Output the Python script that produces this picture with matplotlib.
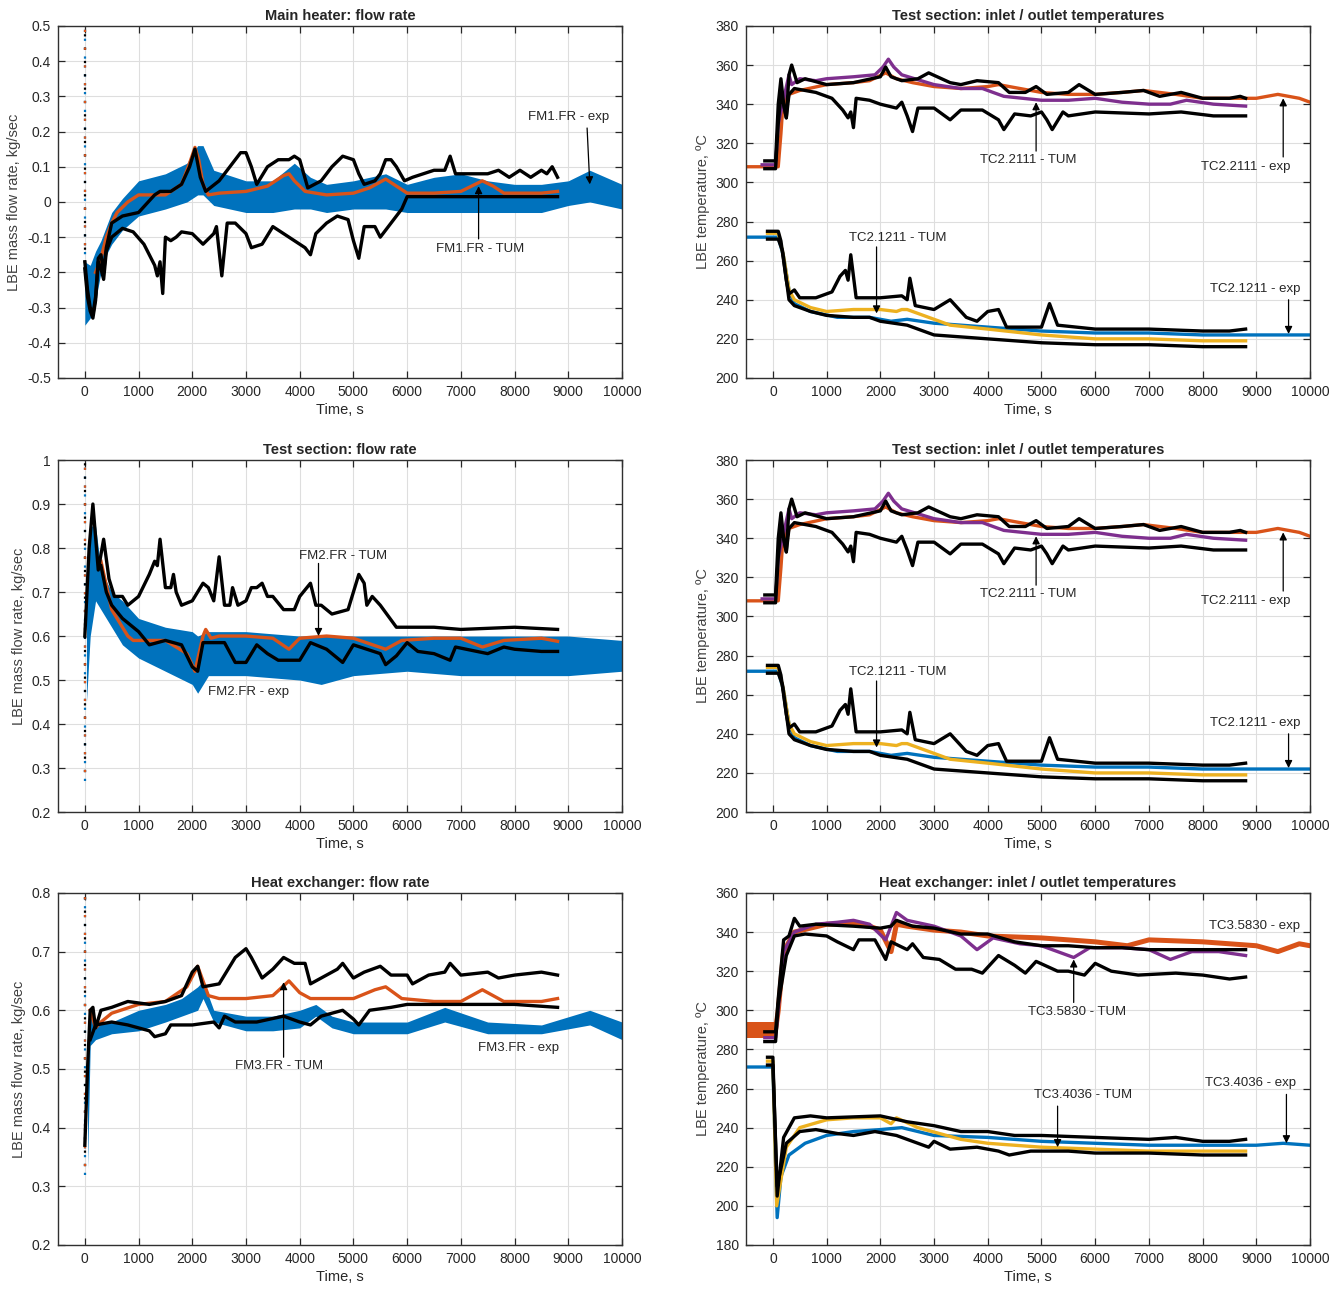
import matplotlib
matplotlib.use("Agg")
import matplotlib.pyplot as plt
from matplotlib.ticker import FuncFormatter

plt.rcParams['font.family'] = ['Liberation Sans', 'DejaVu Sans']

BLUE = '#0072BD'
ORANGE = '#D95319'
YELLOW = '#EDB120'
PURPLE = '#7E2F8E'
TXT = '#262626'

# ---------------- main heater flow rate ----------------
fm1_band_t = [0, 100, 200, 300, 400, 500, 700, 1000, 1500, 1900, 2100, 2200, 2400, 3000, 3500,
              3900, 4200, 4500, 5000, 5600, 6000, 6500, 7000, 7500, 8000, 8500, 9000, 9400, 10000]
fm1_band_lo = [-0.35, -0.33, -0.28, -0.2, -0.15, -0.12, -0.08, -0.04, -0.02, 0.0, 0.02, 0.02, -0.01,
               -0.03, -0.03, -0.02, -0.02, -0.03, -0.02, -0.02, -0.03, -0.03, -0.03, -0.03, -0.03,
               -0.03, -0.01, 0.0, -0.02]
fm1_band_hi = [-0.17, -0.18, -0.14, -0.11, -0.07, -0.03, 0.01, 0.06, 0.08, 0.11, 0.16, 0.16, 0.09,
               0.06, 0.06, 0.11, 0.07, 0.05, 0.06, 0.08, 0.05, 0.07, 0.08, 0.06, 0.05, 0.05, 0.06,
               0.09, 0.05]
fm1_orange_t = [200, 300, 400, 500, 600, 800, 1000, 1300, 1500, 1800, 1950, 2050, 2120, 2200, 2300,
                2500, 3000, 3400, 3700, 3800, 3900, 4100, 4500, 5000, 5300, 5600, 5800, 6000, 6500,
                7000, 7200, 7400, 7600, 7800, 8500, 8800]
fm1_orange_v = [-0.2, -0.16, -0.1, -0.06, -0.03, 0.0, 0.02, 0.02, 0.02, 0.05, 0.11, 0.155, 0.12,
                0.05, 0.02, 0.025, 0.03, 0.045, 0.075, 0.08, 0.06, 0.03, 0.02, 0.025, 0.04, 0.065,
                0.045, 0.025, 0.025, 0.03, 0.045, 0.06, 0.045, 0.025, 0.025, 0.03]
fm1_tum_a_t = [0, 50, 100, 150, 200, 250, 300, 350, 400, 500, 700, 1000, 1300, 1400, 1600, 1800,
               1950, 2050, 2150, 2250, 2500, 2700, 2900, 3000, 3100, 3200, 3400, 3600, 3800, 3900,
               4000, 4150, 4400, 4600, 4800, 5000, 5100, 5200, 5400, 5500, 5600, 5700, 5800, 5950,
               6100, 6500, 6700, 6800, 6900, 7200, 7500, 7700, 7900, 8100, 8300, 8500, 8600, 8700,
               8800]
fm1_tum_a_v = [-0.17, -0.25, -0.3, -0.32, -0.27, -0.16, -0.15, -0.2, -0.13, -0.06, -0.04, -0.03,
               0.02, 0.03, 0.03, 0.05, 0.1, 0.15, 0.07, 0.03, 0.06, 0.1, 0.14, 0.14, 0.1, 0.05,
               0.1, 0.12, 0.12, 0.13, 0.12, 0.04, 0.06, 0.1, 0.13, 0.12, 0.08, 0.05, 0.06, 0.08,
               0.12, 0.12, 0.1, 0.06, 0.07, 0.09, 0.09, 0.13, 0.08, 0.08, 0.08, 0.09, 0.07, 0.09,
               0.07, 0.09, 0.08, 0.1, 0.07]
fm1_tum_b_t = [0, 50, 100, 150, 200, 250, 300, 350, 400, 500, 700, 900, 1100, 1300, 1350, 1400,
               1450, 1500, 1600, 1700, 1800, 2000, 2200, 2400, 2450, 2550, 2650, 2800, 3000, 3100,
               3300, 3500, 3700, 3900, 4100, 4200, 4300, 4500, 4700, 4900, 5000, 5100, 5200, 5400,
               5500, 5700, 5900, 6000, 7000, 8000, 8800]
fm1_tum_b_v = [-0.19, -0.27, -0.31, -0.33, -0.28, -0.17, -0.19, -0.22, -0.14, -0.1, -0.075, -0.085,
               -0.12, -0.18, -0.21, -0.17, -0.26, -0.1, -0.11, -0.1, -0.085, -0.09, -0.12, -0.09,
               -0.07, -0.21, -0.06, -0.06, -0.09, -0.13, -0.12, -0.07, -0.09, -0.11, -0.13, -0.15,
               -0.09, -0.06, -0.04, -0.05, -0.11, -0.16, -0.07, -0.07, -0.1, -0.06, -0.02, 0.015,
               0.015, 0.015, 0.015]

# ---------------- test section flow rate ----------------
fm2_band_t = [30, 100, 200, 300, 500, 700, 1000, 1500, 2000, 2100, 2300, 3000, 4000, 4400, 5000,
              6000, 7000, 8000, 9000, 10000]
fm2_band_lo = [0.45, 0.6, 0.68, 0.66, 0.62, 0.58, 0.55, 0.52, 0.49, 0.47, 0.51, 0.51, 0.5, 0.49,
               0.51, 0.52, 0.51, 0.51, 0.51, 0.52]
fm2_band_hi = [0.7, 0.85, 0.85, 0.75, 0.7, 0.68, 0.64, 0.62, 0.61, 0.6, 0.61, 0.61, 0.6, 0.6, 0.6,
               0.6, 0.6, 0.6, 0.6, 0.59]
fm2_orange_t = [300, 500, 800, 900, 1500, 1900, 2050, 2200, 2250, 2350, 2500, 3000, 3500, 3800,
                4000, 4500, 5000, 5600, 5900, 6500, 7000, 7400, 7800, 8500, 8800]
fm2_orange_v = [0.77, 0.66, 0.6, 0.59, 0.59, 0.56, 0.52, 0.6, 0.615, 0.595, 0.6, 0.6, 0.595, 0.57,
                0.595, 0.6, 0.595, 0.57, 0.59, 0.595, 0.595, 0.575, 0.59, 0.595, 0.588]
fm2_tum_a_t = [0, 80, 150, 250, 350, 450, 550, 700, 800, 1000, 1200, 1300, 1350, 1400, 1500, 1600,
               1650, 1700, 1800, 2000, 2200, 2300, 2400, 2500, 2600, 2700, 2750, 2850, 3000, 3100,
               3200, 3300, 3400, 3500, 3700, 3900, 4000, 4200, 4300, 4400, 4600, 4900, 5100, 5200,
               5250, 5350, 5500, 5800, 6500, 7000, 8000, 8800]
fm2_tum_a_v = [0.6, 0.8, 0.9, 0.75, 0.82, 0.73, 0.69, 0.69, 0.67, 0.69, 0.74, 0.77, 0.76, 0.82,
               0.71, 0.71, 0.74, 0.7, 0.67, 0.68, 0.72, 0.71, 0.68, 0.78, 0.67, 0.67, 0.71, 0.67,
               0.68, 0.71, 0.71, 0.72, 0.69, 0.69, 0.66, 0.66, 0.69, 0.72, 0.67, 0.67, 0.65, 0.66,
               0.74, 0.72, 0.67, 0.69, 0.67, 0.62, 0.62, 0.615, 0.62, 0.615]
fm2_tum_b_t = [300, 400, 500, 700, 1000, 1200, 1500, 1800, 2000, 2100, 2200, 2600, 2800, 3000,
               3200, 3400, 3600, 4000, 4200, 4500, 4800, 5000, 5500, 5600, 5800, 6000, 6200, 6500,
               6800, 6900, 7500, 7800, 8000, 8500, 8800]
fm2_tum_b_v = [0.76, 0.7, 0.67, 0.64, 0.61, 0.58, 0.59, 0.58, 0.53, 0.52, 0.585, 0.585, 0.54,
               0.54, 0.58, 0.56, 0.545, 0.545, 0.585, 0.57, 0.54, 0.58, 0.56, 0.535, 0.555, 0.585,
               0.565, 0.56, 0.545, 0.575, 0.56, 0.575, 0.57, 0.565, 0.565]

# ---------------- heat exchanger flow rate ----------------
fm3_band_t = [50, 100, 200, 500, 1000, 1500, 1800, 2100, 2200, 2400, 3000, 3500, 4000, 4300, 4600,
              5000, 6000, 6700, 7500, 8500, 9400, 10000]
fm3_band_lo = [0.33, 0.54, 0.55, 0.56, 0.565, 0.58, 0.59, 0.6, 0.62, 0.58, 0.565, 0.565, 0.57,
               0.59, 0.57, 0.56, 0.56, 0.58, 0.56, 0.56, 0.575, 0.55]
fm3_band_hi = [0.55, 0.6, 0.58, 0.58, 0.6, 0.61, 0.62, 0.64, 0.65, 0.6, 0.59, 0.59, 0.6, 0.61,
               0.59, 0.58, 0.58, 0.605, 0.58, 0.575, 0.6, 0.58]
fm3_orange_t = [100, 200, 300, 500, 1000, 1500, 1900, 2100, 2300, 2500, 3000, 3500, 3800, 4000,
                4200, 5000, 5400, 5600, 5900, 6500, 7000, 7400, 7600, 7800, 8500, 8800]
fm3_orange_v = [0.6, 0.57, 0.58, 0.595, 0.61, 0.615, 0.64, 0.675, 0.625, 0.62, 0.62, 0.625, 0.65,
                0.63, 0.62, 0.62, 0.635, 0.64, 0.62, 0.615, 0.615, 0.635, 0.625, 0.615, 0.615, 0.62]
fm3_tum_a_t = [0, 50, 100, 150, 200, 300, 500, 800, 1200, 1500, 1800, 2000, 2100, 2200, 2500,
               2800, 3000, 3100, 3300, 3500, 3700, 3900, 4100, 4200, 4500, 4700, 4800, 5000, 5200,
               5500, 5700, 6000, 6100, 6400, 6700, 6800, 7000, 7500, 7700, 8000, 8500, 8800]
fm3_tum_a_v = [0.37, 0.5, 0.6, 0.605, 0.57, 0.6, 0.605, 0.615, 0.61, 0.615, 0.625, 0.665, 0.675,
               0.64, 0.645, 0.69, 0.705, 0.69, 0.655, 0.67, 0.69, 0.68, 0.68, 0.645, 0.66, 0.67,
               0.68, 0.655, 0.665, 0.675, 0.66, 0.66, 0.645, 0.66, 0.665, 0.68, 0.66, 0.665, 0.655,
               0.66, 0.665, 0.66]
fm3_tum_b_t = [100, 200, 500, 800, 1200, 1300, 1500, 1600, 2000, 2400, 2500, 2600, 2800, 3200,
               3700, 4000, 4200, 4400, 4800, 5000, 5100, 5300, 5700, 6000, 7000, 8000, 8800]
fm3_tum_b_v = [0.55, 0.575, 0.58, 0.575, 0.565, 0.555, 0.56, 0.575, 0.575, 0.58, 0.57, 0.59, 0.58,
               0.58, 0.59, 0.58, 0.575, 0.59, 0.6, 0.585, 0.575, 0.6, 0.605, 0.61, 0.61, 0.61, 0.605]

# ---------------- test section temperatures ----------------
tc2_out_exp_t = [-500, 100, 150, 200, 250, 300, 500, 1000, 1500, 1800, 2100, 2300, 2600, 3000,
                 3500, 4000, 4200, 4600, 5000, 5500, 6000, 6500, 6900, 7500, 8000, 8500, 9000,
                 9400, 9800, 10000]
tc2_out_exp_v = [308, 308, 325, 345, 338, 345, 347, 350, 351, 352, 356, 353, 351, 349, 348, 349,
                 350, 348, 346, 345, 345, 346, 347, 345, 343, 343, 343, 345, 343, 341]
tc2_out_purple_t = [-200, 50, 100, 300, 350, 500, 800, 1000, 1500, 1900, 2050, 2150, 2250, 2400,
                    3000, 3500, 3900, 4300, 5000, 5500, 6000, 6500, 7000, 7400, 7700, 8200, 8800]
tc2_out_purple_v = [309, 309, 330, 355, 350, 353, 352, 353, 354, 355, 359, 363, 359, 355, 350,
                    348, 348, 344, 342, 342, 343, 341, 340, 340, 342, 340, 339]
tc2_out_tum_a_t = [-150, 50, 100, 150, 200, 250, 300, 350, 450, 600, 1000, 1500, 2000, 2100,
                   2200, 2400, 2700, 2900, 3300, 3500, 3800, 4200, 4400, 4700, 4900, 5100, 5500,
                   5700, 6000, 6500, 6900, 7200, 7600, 8000, 8500, 8700, 8800]
tc2_out_tum_a_v = [311, 311, 340, 353, 340, 333, 355, 360, 351, 353, 350, 351, 354, 359, 354, 352,
                   353, 356, 351, 350, 352, 351, 346, 346, 349, 345, 346, 350, 345, 346, 347, 344,
                   346, 343, 343, 344, 343]
tc2_out_tum_b_t = [-150, 50, 100, 150, 200, 250, 300, 400, 800, 1100, 1300, 1400, 1450, 1500,
                   1550, 1800, 2000, 2300, 2400, 2500, 2600, 2700, 3000, 3300, 3500, 3900, 4200,
                   4300, 4500, 4800, 5000, 5100, 5200, 5400, 5500, 6000, 7000, 7600, 8200, 8800]
tc2_out_tum_b_v = [307, 307, 330, 345, 340, 333, 345, 348, 346, 343, 337, 333, 336, 328, 343, 342,
                   340, 338, 341, 334, 326, 338, 338, 332, 337, 337, 332, 327, 335, 334, 336, 332,
                   327, 336, 334, 336, 335, 336, 334, 334]
tc2_in_exp_t = [-500, 100, 200, 300, 400, 700, 1200, 1800, 2200, 2500, 3000, 4000, 5000, 6000,
                7000, 8000, 10000]
tc2_in_exp_v = [272, 272, 262, 245, 238, 234, 231, 231, 229, 230, 228, 226, 224, 223, 223, 222, 222]
tc2_in_yellow_t = [-100, 100, 200, 300, 400, 700, 1000, 1500, 2000, 2300, 2400, 2500, 2800, 3300,
                   4000, 5000, 6000, 7000, 8000, 8800]
tc2_in_yellow_v = [274, 274, 262, 245, 240, 236, 234, 235, 235, 234, 235, 235, 232, 227, 225, 222,
                   220, 220, 219, 219]
tc2_in_tum_a_t = [-100, 100, 150, 250, 300, 400, 500, 800, 1100, 1250, 1350, 1400, 1450, 1550,
                  2000, 2400, 2500, 2550, 2650, 3000, 3300, 3600, 3800, 4000, 4200, 4350, 5000,
                  5150, 5300, 6000, 7000, 8000, 8500, 8800]
tc2_in_tum_a_v = [275, 275, 270, 250, 243, 245, 241, 241, 244, 252, 255, 250, 263, 241, 241, 242,
                  240, 251, 237, 235, 240, 231, 229, 234, 235, 226, 226, 238, 227, 225, 225, 224,
                  224, 225]
tc2_in_tum_b_t = [-100, 100, 180, 300, 400, 700, 1000, 1500, 1800, 2000, 2500, 3000, 3500, 4000,
                  5000, 6000, 7000, 8000, 8800]
tc2_in_tum_b_v = [271, 271, 265, 240, 237, 234, 232, 231, 231, 229, 227, 222, 221, 220, 218, 217,
                  217, 216, 216]

# ---------------- heat exchanger temperatures ----------------
tc3_out_exp_t = [50, 100, 200, 400, 700, 1000, 1500, 1800, 2000, 2200, 2300, 2500, 3000, 3500,
                 4000, 5000, 6000, 6600, 7000, 8000, 9000, 9400, 9800, 10000]
tc3_out_exp_v = [290, 300, 330, 340, 342, 344, 344, 343, 341, 330, 344, 343, 341, 340, 338, 337,
                 335, 333, 336, 335, 333, 330, 334, 333]
tc3_out_purple_t = [-150, 50, 200, 400, 800, 1200, 1500, 1800, 2100, 2300, 2500, 3000, 3500, 3800,
                    4100, 4600, 5000, 5600, 5900, 6500, 7000, 7400, 7800, 8300, 8800]
tc3_out_purple_v = [286, 286, 330, 340, 344, 345, 346, 344, 336, 350, 346, 343, 338, 331, 337,
                    334, 333, 327, 332, 332, 331, 326, 330, 330, 328]
tc3_out_tum_a_t = [-150, 50, 100, 200, 300, 400, 500, 800, 1500, 2000, 2200, 2300, 2600, 3000,
                   3500, 4000, 4500, 5000, 5500, 6000, 6500, 7000, 8000, 8800]
tc3_out_tum_a_v = [289, 289, 306, 336, 338, 347, 343, 344, 343, 342, 343, 346, 343, 342, 339, 339,
                   335, 333, 333, 332, 332, 331, 331, 331]
tc3_out_tum_b_t = [-150, 50, 100, 250, 400, 600, 1000, 1200, 1500, 1600, 1900, 2100, 2200, 2500,
                   2600, 2800, 3100, 3400, 3700, 3900, 4200, 4500, 4700, 4900, 5300, 5500, 5800,
                   6000, 6300, 6800, 7500, 8000, 8500, 8800]
tc3_out_tum_b_v = [284, 284, 303, 328, 338, 339, 338, 335, 331, 336, 336, 326, 335, 331, 334, 327,
                   326, 321, 321, 319, 328, 323, 319, 325, 320, 320, 318, 324, 320, 318, 319, 318,
                   316, 317]
tc3_in_exp_t = [-500, 0, 80, 150, 300, 600, 1000, 1500, 2000, 2400, 3000, 4000, 5000, 6000, 7000,
                8000, 9000, 9500, 10000]
tc3_in_exp_v = [271, 271, 194, 215, 226, 232, 236, 238, 239, 240, 236, 235, 233, 232, 231, 231,
                231, 232, 231]
tc3_in_yellow_t = [-100, 0, 70, 250, 500, 1000, 1500, 2000, 2200, 2300, 2700, 3500, 4000, 5000,
                   6000, 7000, 8800]
tc3_in_yellow_v = [274, 274, 200, 230, 240, 244, 245, 245, 242, 245, 240, 234, 232, 230, 229, 228,
                   228]
tc3_in_tum_a_t = [-100, 0, 80, 200, 400, 700, 1000, 2000, 2500, 3000, 3500, 4000, 4500, 5000,
                  6000, 7000, 7500, 8000, 8500, 8800]
tc3_in_tum_a_v = [276, 276, 205, 235, 245, 246, 245, 246, 243, 241, 238, 238, 236, 236, 235, 234,
                  235, 233, 233, 234]
tc3_in_tum_b_t = [-100, 0, 80, 250, 500, 800, 1200, 1500, 1900, 2300, 2700, 2900, 3000, 3300,
                  3800, 4200, 4400, 4800, 5500, 6000, 7000, 8000, 8800]
tc3_in_tum_b_v = [272, 272, 210, 232, 238, 239, 237, 236, 238, 236, 232, 230, 233, 229, 230, 228,
                  226, 228, 228, 227, 227, 226, 226]

fig = plt.figure(figsize=(13.42, 12.90), dpi=100)
col_x = [0.0432, 0.5559]
row_y = [0.7070, 0.3705, 0.0349]
w, h = 0.4203, 0.2729


def frame(ax, ylim, ystep, title, ylabel):
    ax.set_xlim(-500, 10000)
    ax.set_ylim(*ylim)
    ax.set_xticks(range(0, 10001, 1000))
    n = int(round((ylim[1] - ylim[0]) / ystep))
    ax.set_yticks([ylim[0] + i * ystep for i in range(n + 1)])
    ax.yaxis.set_major_formatter(FuncFormatter(lambda v, p: '%g' % round(v, 6)))
    ax.grid(True, color='#dedede', lw=0.8)
    ax.set_axisbelow(True)
    ax.tick_params(direction='in', top=True, right=True, length=5, width=0.9,
                   labelsize=10, colors=TXT, pad=5)
    for s in ax.spines.values():
        s.set_color('#303030')
        s.set_linewidth(1.0)
    ax.set_title(title, fontsize=10.5, fontweight='bold', color=TXT, pad=4)
    ax.set_xlabel('Time, s', fontsize=10.5, color=TXT, labelpad=3)
    ax.set_ylabel(ylabel, fontsize=10.5, color='#404040', labelpad=4)


def arrow(ax, tail, head):
    ax.annotate('', xy=head, xytext=tail,
                arrowprops=dict(arrowstyle='-|>', color='k', lw=0.9, mutation_scale=11,
                                shrinkA=0, shrinkB=0))


def label(ax, x, y, s):
    ax.text(x, y, s, fontsize=9.5, color=TXT, ha='center', va='center')


def start_spike(ax, lo, hi):
    # initial transient samples stacked at t = 0
    ax.plot([0, 0], [lo, hi], color=BLUE, lw=1.6, ls=(0, (1, 3)))
    ax.plot([0, 0], [lo, hi], color='k', lw=1.6, ls=(2, (1, 5)))
    ax.plot([0, 0], [lo, hi], color=ORANGE, lw=1.6, ls=(4, (1, 7)))


LW = 2.4

# main heater flow
ax = fig.add_axes([col_x[0], row_y[0], w, h])
frame(ax, (-0.5, 0.5), 0.1, 'Main heater: flow rate', 'LBE mass flow rate, kg/sec')
start_spike(ax, -0.2, 0.5)
ax.fill_between(fm1_band_t, fm1_band_lo, fm1_band_hi, color=BLUE, lw=0)
ax.plot(fm1_orange_t, fm1_orange_v, color=ORANGE, lw=LW)
ax.plot(fm1_tum_a_t, fm1_tum_a_v, color='k', lw=LW)
ax.plot(fm1_tum_b_t, fm1_tum_b_v, color='k', lw=LW)
label(ax, 9000, 0.24, 'FM1.FR - exp')
arrow(ax, (9350, 0.21), (9400, 0.05))
label(ax, 7350, -0.135, 'FM1.FR - TUM')
arrow(ax, (7330, -0.105), (7330, 0.045))

# test section flow
ax = fig.add_axes([col_x[0], row_y[1], w, h])
frame(ax, (0.2, 1.0), 0.1, 'Test section: flow rate', 'LBE mass flow rate, kg/sec')
start_spike(ax, 0.27, 1.0)
ax.fill_between(fm2_band_t, fm2_band_lo, fm2_band_hi, color=BLUE, lw=0)
ax.plot(fm2_orange_t, fm2_orange_v, color=ORANGE, lw=LW)
ax.plot(fm2_tum_a_t, fm2_tum_a_v, color='k', lw=LW)
ax.plot(fm2_tum_b_t, fm2_tum_b_v, color='k', lw=LW)
label(ax, 4800, 0.783, 'FM2.FR - TUM')
arrow(ax, (4350, 0.765), (4350, 0.6))
label(ax, 3050, 0.473, 'FM2.FR - exp')

# heat exchanger flow
ax = fig.add_axes([col_x[0], row_y[2], w, h])
frame(ax, (0.2, 0.8), 0.1, 'Heat exchanger: flow rate', 'LBE mass flow rate, kg/sec')
start_spike(ax, 0.32, 0.8)
ax.fill_between(fm3_band_t, fm3_band_lo, fm3_band_hi, color=BLUE, lw=0)
ax.plot(fm3_orange_t, fm3_orange_v, color=ORANGE, lw=LW)
ax.plot(fm3_tum_a_t, fm3_tum_a_v, color='k', lw=LW)
ax.plot(fm3_tum_b_t, fm3_tum_b_v, color='k', lw=LW)
label(ax, 3620, 0.505, 'FM3.FR - TUM')
arrow(ax, (3700, 0.52), (3700, 0.648))
label(ax, 8070, 0.536, 'FM3.FR - exp')

# test section temperatures (same data shown twice)
for r in (0, 1):
    ax = fig.add_axes([col_x[1], row_y[r], w, h])
    frame(ax, (200, 380), 20, 'Test section: inlet / outlet temperatures', 'LBE temperature, \u00baC')
    ax.plot(tc2_out_exp_t, tc2_out_exp_v, color=ORANGE, lw=LW)
    ax.plot(tc2_out_purple_t, tc2_out_purple_v, color=PURPLE, lw=LW)
    ax.plot(tc2_out_tum_a_t, tc2_out_tum_a_v, color='k', lw=LW)
    ax.plot(tc2_out_tum_b_t, tc2_out_tum_b_v, color='k', lw=LW)
    ax.plot(tc2_in_exp_t, tc2_in_exp_v, color=BLUE, lw=LW)
    ax.plot(tc2_in_yellow_t, tc2_in_yellow_v, color=YELLOW, lw=LW)
    ax.plot(tc2_in_tum_a_t, tc2_in_tum_a_v, color='k', lw=LW)
    ax.plot(tc2_in_tum_b_t, tc2_in_tum_b_v, color='k', lw=LW)
    label(ax, 4750, 311.5, 'TC2.2111 - TUM')
    arrow(ax, (4900, 316), (4900, 341))
    label(ax, 8800, 308, 'TC2.2111 - exp')
    arrow(ax, (9500, 313), (9500, 343))
    label(ax, 2320, 271.5, 'TC2.1211 - TUM')
    arrow(ax, (1930, 267), (1930, 233))
    label(ax, 8980, 245.5, 'TC2.1211 - exp')
    arrow(ax, (9600, 240), (9600, 222.5))

# heat exchanger temperatures
ax = fig.add_axes([col_x[1], row_y[2], w, h])
frame(ax, (180, 360), 20, 'Heat exchanger: inlet / outlet temperatures', 'LBE temperature, \u00baC')
ax.fill_between([-500, 80], [286, 286], [294, 294], color=ORANGE, lw=0)
ax.plot(tc3_out_exp_t, tc3_out_exp_v, color=ORANGE, lw=3.6)
ax.plot(tc3_out_purple_t, tc3_out_purple_v, color=PURPLE, lw=LW)
ax.plot(tc3_out_tum_a_t, tc3_out_tum_a_v, color='k', lw=LW)
ax.plot(tc3_out_tum_b_t, tc3_out_tum_b_v, color='k', lw=LW)
ax.plot(tc3_in_exp_t, tc3_in_exp_v, color=BLUE, lw=LW)
ax.plot(tc3_in_yellow_t, tc3_in_yellow_v, color=YELLOW, lw=LW)
ax.plot(tc3_in_tum_a_t, tc3_in_tum_a_v, color='k', lw=LW)
ax.plot(tc3_in_tum_b_t, tc3_in_tum_b_v, color='k', lw=LW)
label(ax, 8960, 343, 'TC3.5830 - exp')
label(ax, 5660, 299, 'TC3.5830 - TUM')
arrow(ax, (5600, 304), (5600, 326))
label(ax, 5780, 256.5, 'TC3.4036 - TUM')
arrow(ax, (5300, 251), (5300, 230))
label(ax, 8900, 263, 'TC3.4036 - exp')
arrow(ax, (9560, 257), (9560, 232))

fig.savefig('out.png', dpi=100)
